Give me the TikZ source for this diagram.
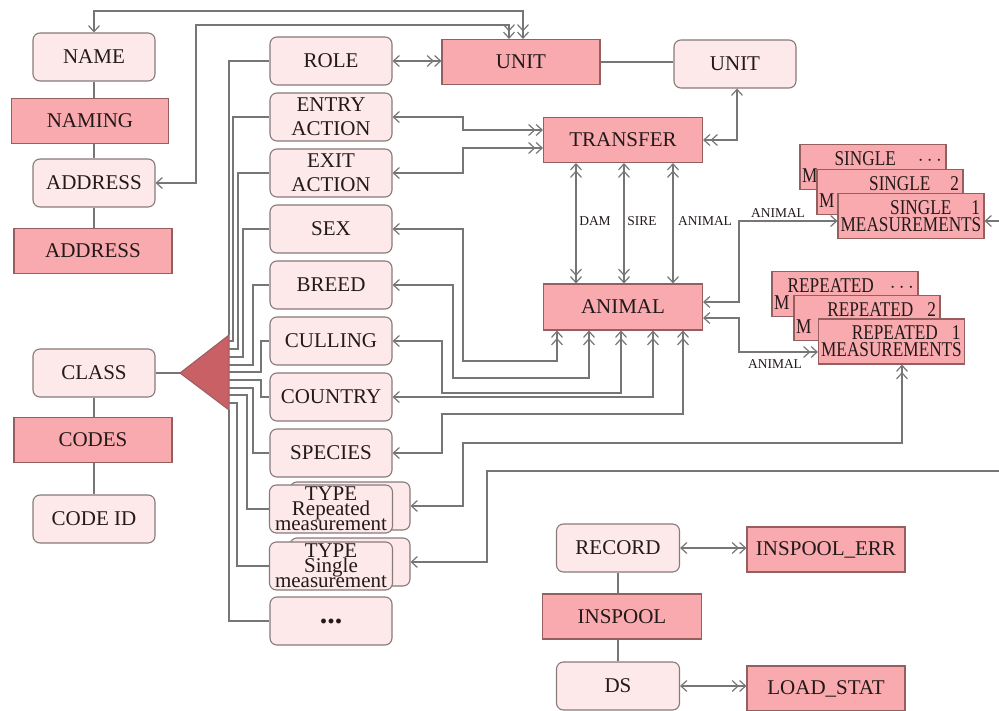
\documentclass[tikz,border=0pt]{standalone}
\usepackage{fontspec}
\setmainfont{Liberation Serif}
\newfontfamily\condfam[FakeStretch=0.82]{Liberation Serif}
\usetikzlibrary{arrows.meta,calc}
\definecolor{lightfill}{RGB}{253,233,234}
\definecolor{darkfill}{RGB}{248,170,175}
\definecolor{trifill}{RGB}{200,96,102}
\definecolor{linegray}{RGB}{118,118,118}
\definecolor{boxgray}{RGB}{135,122,122}
\definecolor{darkborder}{RGB}{150,95,95}
\definecolor{txt}{RGB}{35,25,25}
\newcommand\mainf{\fontsize{21}{24}\selectfont}
\newcommand\typef{\fontsize{21}{15}\selectfont\lineskiplimit=-50pt}
\newcommand\stackf{\condfam\fontsize{21}{17}\selectfont\lineskiplimit=-50pt}
\newcommand\lblf{\fontsize{13.5}{15}\selectfont}
\tikzset{
  sgl/.tip={Straight Barb[length=6pt,width=11pt]},
  dbl/.tip={Straight Barb[length=6pt,width=11pt] Straight Barb[length=6pt,width=11pt]},
  rbox/.style={draw=boxgray, fill=lightfill, rounded corners=7pt, line width=1.1pt,
    minimum width=122pt, minimum height=48pt, inner sep=0pt, font=\mainf, text=txt, align=center},
  tbox/.style={draw=darkborder, fill=darkfill, line width=1.1pt,
    minimum width=158pt, minimum height=45pt, inner sep=0pt, font=\mainf, text=txt, align=center},
  stk/.style={draw=darkborder, fill=darkfill, line width=1.1pt,
    minimum width=146pt, minimum height=45pt, inner sep=0pt, font=\stackf, text=txt, align=center},
  ln/.style={draw=linegray, line width=1.2pt},
  lbl/.style={font=\lblf, text=txt, inner sep=0pt},
}
\begin{document}
\begin{tikzpicture}[x=1pt,y=-1pt]
\useasboundingbox (0,0) rectangle (999,711);

% left column
\node[rbox] (name) at (94,57) {NAME};
\node[tbox, minimum width=157pt] (naming) at (90,121) {NAMING};
\node[rbox] (address1) at (94,183) {ADDRESS};
\node[tbox] (address2) at (93,251) {ADDRESS};
\node[rbox] (class) at (94,373) {CLASS};
\node[tbox] (codes) at (93,440) {CODES};
\node[rbox] (codeid) at (94,519) {CODE ID};

% triangle
\coordinate (tritip) at (180,373);
\coordinate (tritop) at (229,335);
\coordinate (tribot) at (229,410);
\filldraw[fill=trifill, draw=darkborder, line width=1pt] (tritip) -- (tritop) -- (tribot) -- cycle;

% role column
\node[rbox] (role) at (331,61) {ROLE};
\node[rbox] (entry) at (331,117) {ENTRY\\ACTION};
\node[rbox] (exit) at (331,173) {EXIT\\ACTION};
\node[rbox] (sex) at (331,229) {SEX};
\node[rbox] (breed) at (331,285) {BREED};
\node[rbox] (culling) at (331,341) {CULLING};
\node[rbox] (country) at (331,397) {COUNTRY};
\node[rbox] (species) at (331,453) {SPECIES};
\node[rbox, minimum width=120pt] (typeRb) at (350,506) {};
\node[rbox, minimum width=123pt, font=\typef] (typeR) at (331,509) {TYPE\\Repeated\\measurement};
\node[rbox, minimum width=120pt] (typeSb) at (350,562) {};
\node[rbox, minimum width=123pt, font=\typef] (typeS) at (331,566) {TYPE\\Single\\measurement};
\node[rbox] (dots) at (331,621) {{\fontsize{30}{30}\selectfont\textbf{...}}};

% tables
\node[tbox] (unitT) at (521,62) {UNIT};
\node[rbox] (unitR) at (735,64) {UNIT};
\node[tbox, minimum width=159pt] (transfer) at (623,140) {TRANSFER};
\node[tbox, minimum width=159pt, minimum height=46pt] (animal) at (623,307) {ANIMAL};

% single measurement stack
\node[stk] (sinB) at (873,167) {\makebox[138pt][r]{SINGLE\hspace{22pt}$\cdots$}\\\makebox[142pt][l]{M}};
\node[stk] (sinM) at (890,192) {\makebox[138pt][r]{SINGLE\hspace{20pt}2}\\\makebox[142pt][l]{M}};
\node[stk] (sinF) at (911,216) {\makebox[138pt][r]{SINGLE\hspace{20pt}1}\\MEASUREMENTS};
% repeated measurement stack
\node[stk] (repB) at (845,294) {\makebox[138pt][r]{REPEATED\hspace{16pt}$\cdots$}\\\makebox[142pt][l]{M}};
\node[stk] (repM) at (867,318) {\makebox[138pt][r]{REPEATED\hspace{14pt}2}\\\makebox[142pt][l]{M}};
\node[stk] (repF) at (891.5,341.5) {\makebox[138pt][r]{REPEATED\hspace{14pt}1}\\MEASUREMENTS};

% bottom group
\node[rbox, minimum width=123pt] (record) at (618,548) {RECORD};
\node[tbox] (inspoolerr) at (826,549.5) {INSPOOL\_ERR};
\node[tbox, minimum width=159pt] (inspool) at (622,616.5) {INSPOOL};
\node[rbox, minimum width=123pt] (ds) at (618,686) {DS};
\node[tbox] (loadstat) at (826,688.5) {LOAD\_STAT};

% left column connectors
\draw[ln] (name.south) -- (name.south |- naming.north);
\draw[ln] (address1.north) -- (address1.north |- naming.south);
\draw[ln] (address1.south) -- (address1.south |- address2.north);
\draw[ln] (class.south) -- (class.south |- codes.north);
\draw[ln] (codeid.north) -- (codeid.north |- codes.south);
\draw[ln] (class.east) -- (tritip);

% role column to triangle
\draw[ln] (role.west) -| (tritop);
\draw[ln] (entry.west) -| (233,341) -- (tritop |- 0,341);
\draw[ln] (exit.west) -| (238,349) -- (tritop |- 0,349);
\draw[ln] (sex.west) -| (243,357) -- (tritop |- 0,357);
\draw[ln] (breed.west) -| (253,365) -- (tritop |- 0,365);
\draw[ln] (culling.west) -| (261,372) -- (tritop |- 0,372);
\draw[ln] (country.west) -| (261,380) -- (tritop |- 0,380);
\draw[ln] (species.west) -| (253,388) -- (tritop |- 0,388);
\draw[ln] (typeR.west) -| (247,395) -- (tritop |- 0,395);
\draw[ln] (typeS.west) -| (237,403) -- (tritop |- 0,403);
\draw[ln] (dots.west) -| (tribot);

% top connectors
\draw[ln,{sgl}-{dbl}] (name.north) -- (name.north |- 0,11) -| (unitT.north -| 523,0);
\draw[ln,{sgl}-{dbl}] (address1.east) -| (196,25) -| (unitT.north -| 509,0);
\draw[ln,{sgl}-{dbl}] (role.east) -- (unitT.west |- role.east);
\draw[ln] (unitT.east) -- (unitR.west |- unitT.east);

% transfer
\draw[ln,{sgl}-{dbl}] (entry.east) -| (463,130) -- (transfer.west |- 0,130);
\draw[ln,{sgl}-{dbl}] (exit.east) -| (463,148) -- (transfer.west |- 0,148);
\draw[ln,{dbl}-{sgl}] (transfer.east) -| (unitR.south -| 737,0);
\draw[ln,{dbl}-{dbl}] (transfer.south -| 576,0) -- (animal.north -| 576,0);
\draw[ln,{dbl}-{dbl}] (transfer.south -| 624,0) -- (animal.north -| 624,0);
\draw[ln,{dbl}-{sgl}] (transfer.south -| 673,0) -- (animal.north -| 673,0);
\node[lbl] (ldam) at (595,221) {DAM};
\node[lbl] (lsire) at (642,221) {SIRE};
\node[lbl] (lanim) at (705,221) {ANIMAL};

% animal
\draw[ln,{sgl}-{dbl}] (sex.east) -| (463,361) -| (animal.south -| 557,0);
\draw[ln,{sgl}-{dbl}] (breed.east) -| (453,378) -| (animal.south -| 589,0);
\draw[ln,{sgl}-{dbl}] (culling.east) -| (442,393) -| (animal.south -| 621,0);
\draw[ln,{sgl}-{dbl}] (country.east) -| (animal.south -| 653,0);
\draw[ln,{sgl}-{dbl}] (species.east) -| (442,414) -| (animal.south -| 683,0);

% measurements
\draw[ln,{sgl}-{sgl}] (animal.east |- 0,302) -| (739,221) -- (sinF.west |- 0,221);
\draw[ln,{sgl}-{dbl}] (animal.east |- 0,318) -| (739,352) -- (repF.west |- 0,352);
\node[lbl] (lanim2) at (778,213) {ANIMAL};
\node[lbl] (lanim3) at (775,364) {ANIMAL};
\draw[ln,{sgl}-{dbl}] (typeRb.east) -| (463,443) -| (repF.south -| 902,0);
\coordinate (offA) at (999,471);
\coordinate (offB) at (999,221);
\draw[ln,{sgl}-] (typeSb.east) -| (487,471) -- (offA);
\draw[ln,{sgl}-] (sinF.east |- offB) -- (offB);

% bottom
\draw[ln,{sgl}-{dbl}] (record.east) -- (inspoolerr.west |- record.east);
\draw[ln] (record.south) -- (record.south |- inspool.north);
\draw[ln] (ds.north) -- (ds.north |- inspool.south);
\draw[ln,{sgl}-{dbl}] (ds.east) -- (loadstat.west |- ds.east);
\end{tikzpicture}
\end{document}
